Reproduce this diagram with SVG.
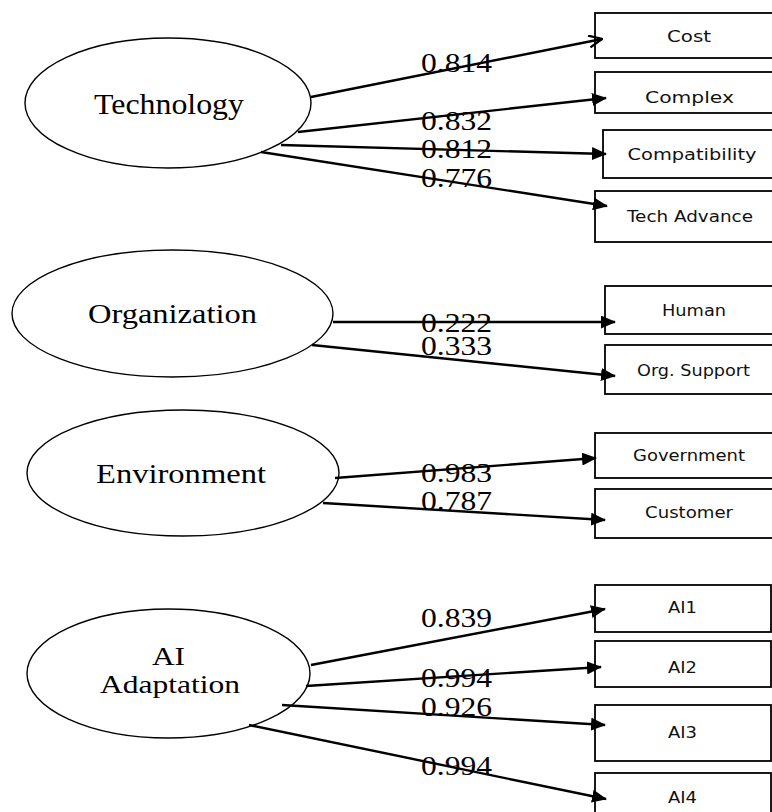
<svg xmlns="http://www.w3.org/2000/svg" width="772" height="812" viewBox="0 0 772 812">
<style>
.bg{fill:#ffffff}
.lat{fill:#ffffff;stroke:#000;stroke-width:1.4}
.box{fill:#ffffff;stroke:#000;stroke-width:1.8}
.lt{font-family:"Liberation Serif","Times New Roman",serif;fill:#000;text-anchor:middle}
.bl{font-family:"DejaVu Sans","Noto Sans",sans-serif;font-size:16px;fill:#111;text-anchor:middle;dominant-baseline:central}
.num{font-family:"Liberation Serif","Times New Roman",serif;font-size:27px;fill:#000}
.c{stroke:#000;stroke-width:2.4;fill:none;marker-end:url(#ah)}
.co{stroke:#000;stroke-width:2.4;fill:none;marker-end:url(#ao)}
</style>
<defs>
<marker id="ah" viewBox="0 0 15 13" refX="14" refY="6.5" markerWidth="15" markerHeight="13" markerUnits="userSpaceOnUse" orient="auto">
<path d="M0,0 L15,6.5 L0,13 z" fill="#000"/>
</marker>
<marker id="ao" viewBox="0 0 15 13" refX="14" refY="6.5" markerWidth="15" markerHeight="13" markerUnits="userSpaceOnUse" orient="auto">
<path d="M1,0.5 L14,6.5 L1,12.5" fill="none" stroke="#000" stroke-width="2.2"/>
</marker>
</defs>
<rect class="bg" x="0" y="0" width="772" height="812"/>

<g id="technology">
<ellipse class="lat" cx="168" cy="103" rx="143" ry="65"/>
<text class="lt" x="169" y="114" font-size="29" textLength="150" lengthAdjust="spacingAndGlyphs">Technology</text>
</g>
<g id="organization">
<ellipse class="lat" cx="172.5" cy="313.5" rx="160.5" ry="63.5"/>
<text class="lt" x="172.5" y="323" font-size="28" textLength="169" lengthAdjust="spacingAndGlyphs">Organization</text>
</g>
<g id="environment">
<ellipse class="lat" cx="183" cy="473" rx="156" ry="63"/>
<text class="lt" x="181" y="483" font-size="28" textLength="170" lengthAdjust="spacingAndGlyphs">Environment</text>
</g>
<g id="ai-adaptation">
<ellipse class="lat" cx="168.5" cy="673.5" rx="141.5" ry="64.5"/>
<text class="lt" x="168.5" y="665" font-size="25" textLength="33" lengthAdjust="spacingAndGlyphs">AI</text>
<text class="lt" x="170" y="693" font-size="25" textLength="140" lengthAdjust="spacingAndGlyphs">Adaptation</text>
</g>

<g id="cost"><rect class="box" x="595" y="13" width="180" height="45"/><text class="bl" x="689" y="36" textLength="44" lengthAdjust="spacingAndGlyphs">Cost</text></g>
<g id="complex"><rect class="box" x="595" y="72" width="180" height="41"/><text class="bl" x="689.5" y="97" textLength="89" lengthAdjust="spacingAndGlyphs">Complex</text></g>
<g id="compatibility"><rect class="box" x="603" y="130" width="172" height="48"/><text class="bl" x="692" y="154" textLength="129" lengthAdjust="spacingAndGlyphs">Compatibility</text></g>
<g id="tech-advance"><rect class="box" x="595" y="191" width="180" height="51"/><text class="bl" x="690" y="216" textLength="126" lengthAdjust="spacingAndGlyphs">Tech Advance</text></g>

<g id="human"><rect class="box" x="605" y="286" width="170" height="48"/><text class="bl" x="694" y="310" textLength="64" lengthAdjust="spacingAndGlyphs">Human</text></g>
<g id="org-support"><rect class="box" x="605" y="345" width="170" height="49"/><text class="bl" x="693.5" y="370" textLength="113" lengthAdjust="spacingAndGlyphs">Org. Support</text></g>

<g id="government"><rect class="box" x="595" y="433" width="180" height="45"/><text class="bl" x="689" y="455" textLength="112" lengthAdjust="spacingAndGlyphs">Government</text></g>
<g id="customer"><rect class="box" x="595" y="489" width="180" height="49"/><text class="bl" x="689" y="512" textLength="88" lengthAdjust="spacingAndGlyphs">Customer</text></g>

<g id="ai1"><rect class="box" x="595" y="585" width="176" height="47"/><text class="bl" x="682.5" y="607" textLength="29" lengthAdjust="spacingAndGlyphs">AI1</text></g>
<g id="ai2"><rect class="box" x="595" y="641" width="176" height="46"/><text class="bl" x="682.5" y="667" textLength="29" lengthAdjust="spacingAndGlyphs">AI2</text></g>
<g id="ai3"><rect class="box" x="595" y="705" width="176" height="56"/><text class="bl" x="682.5" y="732" textLength="29" lengthAdjust="spacingAndGlyphs">AI3</text></g>
<g id="ai4"><rect class="box" x="595" y="773" width="176" height="45"/><text class="bl" x="682.5" y="797" textLength="29" lengthAdjust="spacingAndGlyphs">AI4</text></g>

<g id="connectors">
<line class="co" x1="311" y1="97" x2="602" y2="39"/>
<line class="c" x1="298" y1="132" x2="606" y2="98"/>
<line class="c" x1="281" y1="145" x2="606" y2="154"/>
<line class="c" x1="261" y1="152" x2="607" y2="206"/>
<line class="c" x1="333" y1="322" x2="615" y2="322"/>
<line class="c" x1="312" y1="345" x2="615" y2="376"/>
<line class="c" x1="335" y1="478" x2="596" y2="458"/>
<line class="c" x1="323" y1="503" x2="605" y2="520"/>
<line class="c" x1="311" y1="665" x2="605" y2="609"/>
<line class="c" x1="306" y1="686" x2="601" y2="667"/>
<line class="c" x1="282" y1="705" x2="605" y2="725"/>
<line class="c" x1="249" y1="725" x2="606" y2="799"/>
</g>

<g id="loadings">
<text class="num" x="421" y="72" textLength="71" lengthAdjust="spacingAndGlyphs">0.814</text>
<text class="num" x="421" y="130" textLength="71" lengthAdjust="spacingAndGlyphs">0.832</text>
<text class="num" x="421" y="158" textLength="71" lengthAdjust="spacingAndGlyphs">0.812</text>
<text class="num" x="421" y="187" textLength="71" lengthAdjust="spacingAndGlyphs">0.776</text>
<text class="num" x="421" y="332" textLength="71" lengthAdjust="spacingAndGlyphs">0.222</text>
<text class="num" x="421" y="355" textLength="71" lengthAdjust="spacingAndGlyphs">0.333</text>
<text class="num" x="421" y="482" textLength="71" lengthAdjust="spacingAndGlyphs">0.983</text>
<text class="num" x="421" y="510" textLength="71" lengthAdjust="spacingAndGlyphs">0.787</text>
<text class="num" x="421" y="627" textLength="71" lengthAdjust="spacingAndGlyphs">0.839</text>
<text class="num" x="421" y="687" textLength="71" lengthAdjust="spacingAndGlyphs">0.994</text>
<text class="num" x="421" y="716" textLength="71" lengthAdjust="spacingAndGlyphs">0.926</text>
<text class="num" x="421" y="775" textLength="71" lengthAdjust="spacingAndGlyphs">0.994</text>
</g>
</svg>
